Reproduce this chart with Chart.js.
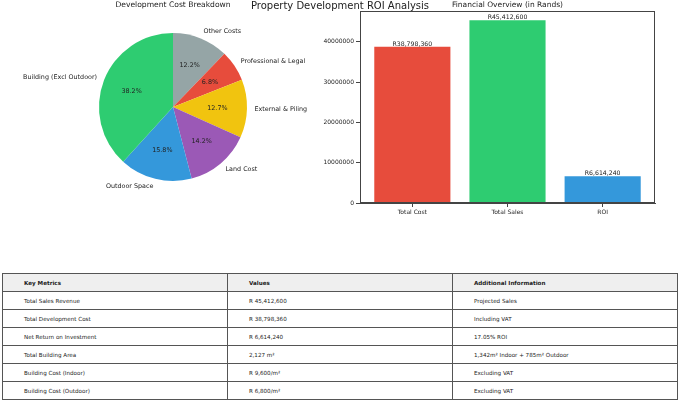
<!DOCTYPE html>
<html>
<head>
<meta charset="utf-8">
<script src="https://cdn.jsdelivr.net/npm/chart.js@4.4.1/dist/chart.umd.min.js"></script>
<style>
  body { margin: 0; width: 680px; height: 411px; background: #fff; position: relative; overflow: hidden; font-family: "DejaVu Sans", sans-serif; color: #222; }
  #main-title { position: absolute; left: 0; top: 0; width: 680px; text-align: center; font-size: 10px; line-height: 11px; }
  #pie-wrap { position: absolute; left: 0; top: 0; }
  #bar-wrap { position: absolute; left: 300px; top: 0; }
  #metrics { position: absolute; left: 2px; top: 273px; width: 676px; border-collapse: collapse; table-layout: fixed; font-size: 5.6px; }
  #metrics td, #metrics th { border: 1px solid #555; height: 17px; padding: 0 0 0 21px; text-align: left; white-space: nowrap; }
  #metrics th { background: #efefef; font-weight: bold; }
</style>
</head>
<body>
<div id="pie-wrap"><canvas id="pie-chart" width="346" height="214"></canvas></div>
<div id="bar-wrap"><canvas id="bar-chart" width="380" height="230"></canvas></div>
<div id="main-title">Property Development ROI Analysis</div>
<table id="metrics"></table>

<script>
// Cost breakdown (clockwise from top)
const pieLabels = ['Other Costs', 'Professional & Legal', 'External & Piling', 'Land Cost', 'Outdoor Space', 'Building (Excl Outdoor)'];
const pieShares = [12.2, 6.8, 12.7, 14.2, 15.8, 38.2];
const pieColors = ['#95a5a6', '#e74c3c', '#f1c40f', '#9b59b6', '#3498db', '#2ecc71'];

// Financial overview
const barLabels = ['Total Cost', 'Total Sales', 'ROI'];
const barValues = [38798360, 45412600, 6614240];
const barColors = ['#e74c3c', '#2ecc71', '#3498db'];
const yTicks = [0, 10000000, 20000000, 30000000, 40000000];

// Table
const tableHeaders = ['Key Metrics', 'Values', 'Additional Information'];
const metricNames = ['Total Sales Revenue', 'Total Development Cost', 'Net Return on Investment', 'Total Building Area', 'Building Cost (Indoor)', 'Building Cost (Outdoor)'];
const metricValues = ['R 45,412,600', 'R 38,798,360', 'R 6,614,240', '2,127 m²', 'R 9,600/m²', 'R 6,800/m²'];
const metricNotes = ['Projected Sales', 'Including VAT', '17.05% ROI', '1,342m² Indoor + 785m² Outdoor', 'Excluding VAT', 'Excluding VAT'];

const FONT = '"DejaVu Sans", sans-serif';
const TEXT = '#222';

function buildTable() {
  const table = document.getElementById('metrics');
  let html = '<tr>' + tableHeaders.map(h => `<th>${h}</th>`).join('') + '</tr>';
  metricNames.forEach((name, i) => {
    html += `<tr><td>${name}</td><td>${metricValues[i]}</td><td>${metricNotes[i]}</td></tr>`;
  });
  table.innerHTML = html;
}

// labels outside wedges + percentages inside
const pieText = {
  id: 'pieText',
  afterDraw(chart) {
    const ctx = chart.ctx;
    const arcs = chart.getDatasetMeta(0).data;
    const total = pieShares.reduce((a, b) => a + b, 0);
    ctx.save();
    ctx.fillStyle = TEXT;
    ctx.textBaseline = 'middle';
    ctx.font = `7.6px ${FONT}`;
    ctx.textAlign = 'center';
    ctx.fillText('Development Cost Breakdown', chart.chartArea.left + chart.chartArea.width / 2, 5);
    ctx.font = `6.4px ${FONT}`;
    arcs.forEach((arc, i) => {
      const mid = (arc.startAngle + arc.endAngle) / 2;
      const r = arc.outerRadius;
      const cos = Math.cos(mid), sin = Math.sin(mid);
      ctx.textAlign = cos >= 0 ? 'left' : 'right';
      ctx.fillText(pieLabels[i], arc.x + 1.1 * r * cos, arc.y + 1.1 * r * sin);
      ctx.textAlign = 'center';
      const pct = (pieShares[i] / total * 100).toFixed(1) + '%';
      ctx.fillText(pct, arc.x + 0.6 * r * cos, arc.y + 0.6 * r * sin);
    });
    ctx.restore();
  }
};

// frame, title and value labels for the bars
const barText = {
  id: 'barText',
  afterDatasetsDraw(chart) {
    const ctx = chart.ctx;
    const area = chart.chartArea;
    ctx.save();
    ctx.strokeStyle = '#444';
    ctx.lineWidth = 1;
    ctx.strokeRect(area.left + 0.5, area.top + 0.5, area.width - 1, area.height - 1);
    ctx.fillStyle = TEXT;
    ctx.font = `7.5px ${FONT}`;
    ctx.textAlign = 'center';
    ctx.textBaseline = 'middle';
    ctx.fillText('Financial Overview (in Rands)', area.left + area.width / 2, 5);
    ctx.font = `6.2px ${FONT}`;
    ctx.textBaseline = 'bottom';
    chart.getDatasetMeta(0).data.forEach((bar, i) => {
      ctx.fillText('R' + barValues[i].toLocaleString('en-US'), bar.x, bar.y + 0.5);
    });
    ctx.restore();
  }
};

function drawPie() {
  new Chart(document.getElementById('pie-chart'), {
    type: 'pie',
    data: {
      labels: pieLabels,
      datasets: [{ data: pieShares, backgroundColor: pieColors, borderWidth: 0 }]
    },
    options: {
      responsive: false,
      animation: false,
      layout: { padding: { left: 99, right: 99, top: 33, bottom: 33 } },
      plugins: { legend: { display: false }, tooltip: { enabled: false } }
    },
    plugins: [pieText]
  });
}

function drawBars() {
  new Chart(document.getElementById('bar-chart'), {
    type: 'bar',
    data: {
      datasets: [{
        data: barValues.map((v, i) => ({ x: i, y: v })),
        backgroundColor: barColors,
        barPercentage: 0.8,
        categoryPercentage: 1
      }]
    },
    options: {
      responsive: false,
      animation: false,
      layout: { padding: { top: 11, right: 25, left: 0, bottom: 0 } },
      plugins: { legend: { display: false }, tooltip: { enabled: false } },
      scales: {
        x: {
          type: 'linear',
          offset: false,
          min: -0.55,
          max: 2.55,
          afterBuildTicks: s => { s.ticks = barLabels.map((_, i) => ({ value: i })); },
          afterFit: s => { s.height = 27; },
          ticks: { callback: v => barLabels[v], font: { family: FONT, size: 6 }, color: TEXT, padding: 2, maxRotation: 0 },
          grid: { offset: false, drawOnChartArea: false, tickLength: 4, tickColor: '#444' },
          border: { color: '#444' }
        },
        y: {
          min: 0,
          max: 47683230,
          afterBuildTicks: s => { s.ticks = yTicks.map(v => ({ value: v })); },
          afterFit: s => { s.width = 60; },
          ticks: { callback: v => String(v), font: { family: FONT, size: 6 }, color: TEXT, padding: 2 },
          grid: { drawOnChartArea: false, tickLength: 4, tickColor: '#444' },
          border: { color: '#444' }
        }
      }
    },
    plugins: [barText]
  });
}

buildTable();
drawPie();
drawBars();
</script>
</body>
</html>
